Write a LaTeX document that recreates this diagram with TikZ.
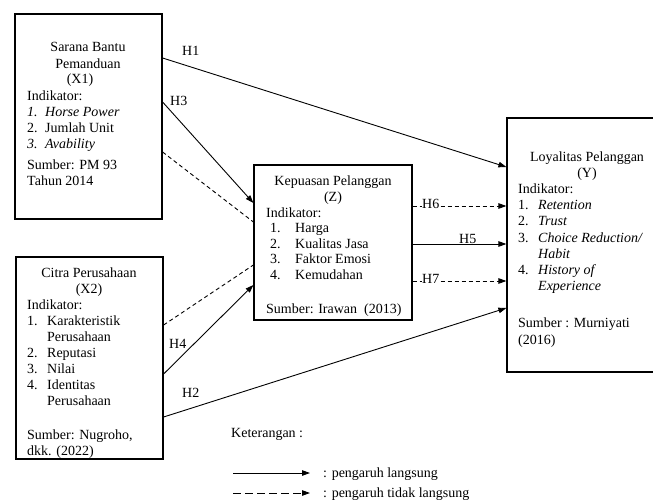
\documentclass[tikz,border=0pt]{standalone}
\usepackage{fontspec}
\setmainfont{Liberation Serif}
\usetikzlibrary{arrows.meta}
\begin{document}
\begin{tikzpicture}[x=1pt,y=-1pt,
  box/.style={draw, line width=1.2pt, inner sep=0pt},
  txt/.style={inner sep=0pt, anchor=base west, font=\fontsize{14}{16}\selectfont},
  ctxt/.style={txt, anchor=base},
  conn/.style={line width=0.9pt, -{Triangle[length=8pt,width=5.5pt]}},
  dconn/.style={conn, dash pattern=on 4pt off 3pt},
  dline/.style={line width=0.9pt, dash pattern=on 4pt off 3pt},
  legd/.style={conn, dash pattern=on 8pt off 4pt},
  hlbl/.style={txt},
  hwhite/.style={txt, fill=white}]
\useasboundingbox (0,0) rectangle (653,503);

% boxes
\node[box, minimum width=147pt, minimum height=205pt] (x1) at (88.5,116.5) {};
\node[box, minimum width=147pt, minimum height=202pt] (x2) at (89.5,358) {};
\node[box, minimum width=158pt, minimum height=155pt] (z) at (333,242.5) {};
\node[box, minimum width=150pt, minimum height=254pt] (y) at (582,245) {};

% X1 text
\node[ctxt] (x1a) at (88,52) {Sarana Bantu};
\node[ctxt] (x1b) at (88,68) {Pemanduan};
\node[ctxt] (x1c) at (80,84) {(X1)};
\node[txt] (x1d) at (27,100) {Indikator:};
\node[txt] (x1e) at (27,116) {\textit{\makebox[18pt][l]{1.}Horse Power}};
\node[txt] (x1f) at (27,132) {\makebox[18pt][l]{2.}Jumlah Unit};
\node[txt] (x1g) at (27,148) {\textit{\makebox[18pt][l]{3.}Avability}};
\node[txt] (x1h) at (27,169) {Sumber: PM 93};
\node[txt] (x1i) at (27,185) {Tahun 2014};

% X2 text
\node[ctxt] (x2a) at (89,277) {Citra Perusahaan};
\node[ctxt] (x2b) at (89,293) {(X2)};
\node[txt] (x2c) at (27,309) {Indikator:};
\node[txt] (x2d) at (27,325) {\makebox[20pt][l]{1.}Karakteristik};
\node[txt] (x2e) at (47,341) {Perusahaan};
\node[txt] (x2f) at (27,357) {\makebox[20pt][l]{2.}Reputasi};
\node[txt] (x2g) at (27,373) {\makebox[20pt][l]{3.}Nilai};
\node[txt] (x2h) at (27,389) {\makebox[20pt][l]{4.}Identitas};
\node[txt] (x2i) at (47,405) {Perusahaan};
\node[txt] (x2j) at (27,439) {Sumber: Nugroho,};
\node[txt] (x2k) at (27,455) {dkk. (2022)};

% Z text
\node[ctxt] (za) at (333,185) {Kepuasan Pelanggan};
\node[ctxt] (zb) at (333,201) {(Z)};
\node[txt] (zc) at (266,217) {Indikator:};
\node[txt] (zd) at (270,232) {\makebox[25pt][l]{1.}Harga};
\node[txt] (ze) at (270,248) {\makebox[25pt][l]{2.}Kualitas Jasa};
\node[txt] (zf) at (270,263) {\makebox[25pt][l]{3.}Faktor Emosi};
\node[txt] (zg) at (270,279) {\makebox[25pt][l]{4.}Kemudahan};
\node[txt] (zh) at (266,313) {Sumber: Irawan\ \ (2013)};

% Y text
\node[ctxt] (ya) at (587,161) {Loyalitas Pelanggan};
\node[ctxt] (yb) at (587,177) {(Y)};
\node[txt] (yc) at (518,193) {Indikator:};
\node[txt] (yd) at (518,209) {\makebox[20pt][l]{1.}\textit{Retention}};
\node[txt] (ye) at (518,225) {\makebox[20pt][l]{2.}\textit{Trust}};
\node[txt] (yf) at (518,242) {\makebox[20pt][l]{3.}\textit{Choice Reduction/}};
\node[txt] (yg) at (538,258) {\textit{Habit}};
\node[txt] (yh) at (518,274) {\makebox[20pt][l]{4.}\textit{History of}};
\node[txt] (yi) at (538,290) {\textit{Experience}};
\node[txt] (yj) at (518,327) {Sumber : Murniyati};
\node[txt] (yk) at (518,344) {(2016)};

% connectors
\draw[conn] (x1.east |- 0,58) -- (y.west |- 0,167);
\draw[conn] (x1.east |- 0,102) -- (z.west |- 0,203);
\draw[dline] (x1.east |- 0,152) -- (z.west |- 0,222);
\draw[dline] (x2.east |- 0,325) -- (z.west |- 0,265);
\draw[conn] (x2.east |- 0,374) -- (z.west |- 0,285);
\draw[conn] (x2.east |- 0,417) -- (y.west |- 0,308);
\draw[dconn] (z.east |- 0,206) -- (y.west |- 0,206);
\draw[conn] (z.east |- 0,244) -- (y.west |- 0,244);
\draw[dconn] (z.east |- 0,281) -- (y.west |- 0,281);

% hypothesis labels
\node[hlbl] (h1) at (182,56) {H1};
\node[hlbl] (h3) at (170,105) {H3};
\node[hlbl] (h4) at (169,348) {H4};
\node[hlbl] (h2) at (182,397) {H2};
\node[hwhite] (h6) at (422,208) {H6};
\node[hlbl] (h5) at (459,243) {H5};
\node[hwhite] (h7) at (422,283) {H7};

% legend
\node[txt] (ket) at (231,437) {Keterangan :};
\coordinate (l1a) at (233,473);
\coordinate (l1b) at (310,473);
\draw[conn] (l1a) -- (l1b);
\node[txt] (l1t) at (323,477) {: pengaruh langsung};
\coordinate (l2a) at (233,493);
\coordinate (l2b) at (310,493);
\draw[legd] (l2a) -- (l2b);
\node[txt] (l2t) at (323,497) {: pengaruh tidak langsung};
\end{tikzpicture}
\end{document}
